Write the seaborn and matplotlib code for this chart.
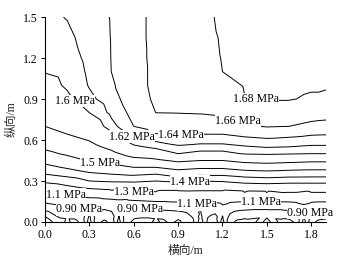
import numpy as np
import matplotlib
matplotlib.use("Agg")
import matplotlib.pyplot as plt
import matplotlib.tri as mtri
import seaborn as sns

# ---------------- data ----------------
# upper field: coarse columns
x_top = [0.0, 0.15, 0.3, 0.45, 0.6, 0.75, 0.9, 1.05, 1.2, 1.35, 1.5, 1.65, 1.8, 1.9]
y_top = [0.2, 0.25, 0.3, 0.35, 0.4, 0.45, 0.5, 0.55, 0.6, 0.65, 0.7, 0.8, 0.9, 1.0, 1.1, 1.2, 1.35, 1.5]
# stress (MPa), one list per x column, bottom -> top
col_000 = [1.07, 1.21, 1.33, 1.40, 1.436, 1.465, 1.49, 1.508, 1.522, 1.536, 1.55, 1.5635, 1.577, 1.591, 1.601, 1.605, 1.610, 1.615]
col_015 = [1.10, 1.267, 1.367, 1.421, 1.456, 1.483, 1.506, 1.522, 1.5375, 1.552, 1.560, 1.578, 1.595, 1.603, 1.606, 1.610, 1.615, 1.621]
col_030 = [1.167, 1.317, 1.40, 1.442, 1.475, 1.503, 1.52, 1.537, 1.552, 1.564, 1.576, 1.60, 1.615, 1.6215, 1.6236, 1.6257, 1.629, 1.632]
col_045 = [1.22, 1.343, 1.408, 1.45, 1.486, 1.515, 1.54, 1.561, 1.579, 1.596, 1.613, 1.625, 1.631, 1.637, 1.6402, 1.6405, 1.6407, 1.641]
col_060 = [1.26, 1.35, 1.41, 1.458, 1.50, 1.536, 1.567, 1.594, 1.616, 1.629, 1.64, 1.647, 1.654, 1.655, 1.655, 1.655, 1.655, 1.655]
col_075 = [1.267, 1.344, 1.40, 1.45, 1.50, 1.542, 1.579, 1.607, 1.624, 1.641, 1.648, 1.6601, 1.662, 1.663, 1.663, 1.6635, 1.664, 1.664]
col_090 = [1.243, 1.343, 1.4125, 1.47, 1.517, 1.558, 1.60, 1.617, 1.631, 1.643, 1.65, 1.6604, 1.6616, 1.663, 1.664, 1.665, 1.667, 1.669]
col_105 = [1.25, 1.3375, 1.40, 1.46, 1.508, 1.55, 1.592, 1.613, 1.629, 1.642, 1.65, 1.661, 1.663, 1.665, 1.667, 1.669, 1.672, 1.675]
col_120 = [1.25, 1.3375, 1.4056, 1.46, 1.508, 1.55, 1.592, 1.613, 1.629, 1.642, 1.651, 1.663, 1.669, 1.674, 1.68, 1.681, 1.682, 1.683]
col_135 = [1.271, 1.357, 1.42, 1.472, 1.521, 1.5625, 1.602, 1.618, 1.634, 1.647, 1.658, 1.668, 1.6795, 1.681, 1.683, 1.685, 1.687, 1.69]
col_150 = [1.271, 1.362, 1.425, 1.478, 1.525, 1.567, 1.604, 1.6215, 1.637, 1.65, 1.661, 1.671, 1.681, 1.683, 1.685, 1.688, 1.691, 1.695]
col_165 = [1.271, 1.357, 1.42, 1.472, 1.521, 1.5625, 1.602, 1.62, 1.634, 1.649, 1.66, 1.67, 1.681, 1.684, 1.687, 1.69, 1.695, 1.70]
col_180 = [1.271, 1.357, 1.42, 1.47, 1.517, 1.558, 1.60, 1.617, 1.631, 1.644, 1.6556, 1.668, 1.678, 1.682, 1.685, 1.688, 1.692, 1.696]
col_190 = [1.271, 1.357, 1.42, 1.47, 1.517, 1.558, 1.60, 1.617, 1.631, 1.643, 1.654, 1.667, 1.676, 1.682, 1.685, 1.688, 1.692, 1.696]
cols_top = [col_000, col_015, col_030, col_045, col_060, col_075, col_090,
            col_105, col_120, col_135, col_150, col_165, col_180, col_190]

# lower strip: fine columns (every 0.05 m)
x_bot = [round(0.05 * i, 2) for i in range(39)]
y_bot = [0.0, 0.03, 0.06, 0.1, 0.15]
row_000 = [0.3, 0.5, 0.62, 0.74, 0.64, 0.76, 1.2, 0.76, 0.66, 0.76, 1.18, 0.76, 0.66, 0.6, 0.66, 0.74, 0.66, 0.74, 0.66, 0.76,
           0.86, 1.2, 0.86, 0.76, 1.18, 0.76, 0.66, 0.6, 0.66, 0.74, 0.66, 0.74, 0.66, 0.6, 0.76, 1.18, 0.76, 0.66, 0.64]
row_003 = [0.45, 0.62, 0.7, 0.72, 0.72, 0.8, 1.15, 0.8, 0.74, 0.8, 1.12, 0.78, 0.72, 0.7, 0.7, 0.71, 0.72, 0.72, 0.73, 0.78,
           0.9, 1.15, 0.9, 0.82, 1.12, 0.82, 0.74, 0.72, 0.71, 0.7, 0.7, 0.71, 0.72, 0.74, 0.8, 1.12, 0.8, 0.74, 0.72]
row_006 = [0.6, 0.7, 0.76, 0.78, 0.8, 0.85, 1.1, 0.86, 0.82, 0.86, 1.08, 0.85, 0.82, 0.8, 0.8, 0.81, 0.82, 0.83, 0.84, 0.87,
           0.95, 1.12, 0.95, 0.9, 1.08, 0.9, 0.84, 0.82, 0.81, 0.8, 0.8, 0.81, 0.82, 0.84, 0.88, 1.08, 0.88, 0.83, 0.82]
row_010 = [0.78, 0.82, 0.86, 0.88, 0.9, 0.93, 1.02, 0.94, 0.92, 0.95, 1.02, 0.95, 0.93, 0.92, 0.92, 0.93, 0.94, 0.95, 0.96, 0.98,
           1.03, 1.1, 1.02, 0.98, 1.06, 0.98, 0.95, 0.94, 0.93, 0.93, 0.93, 0.93, 0.93, 0.94, 0.97, 1.05, 0.97, 0.93, 0.92]
row_015 = [0.93, 0.95, 0.97, 0.98, 0.99, 1.0, 1.02, 1.02, 1.03, 1.04, 1.06, 1.06, 1.07, 1.08, 1.09, 1.1, 1.1, 1.11, 1.11, 1.12,
           1.13, 1.15, 1.13, 1.12, 1.14, 1.12, 1.11, 1.11, 1.11, 1.11, 1.11, 1.11, 1.11, 1.11, 1.12, 1.14, 1.12, 1.11, 1.11]
rows_bot = [row_000, row_003, row_006, row_010, row_015]

levels = [0.5, 0.7, 0.9, 1.1, 1.3, 1.4, 1.45, 1.5, 1.55, 1.6, 1.62, 1.64, 1.66, 1.68]
label_text = {0.9: "0.90 MPa", 1.1: "1.1 MPa", 1.3: "1.3 MPa", 1.4: "1.4 MPa", 1.5: "1.5 MPa",
              1.6: "1.6 MPa", 1.62: "1.62 MPa", 1.64: "1.64 MPa", 1.66: "1.66 MPa", 1.68: "1.68 MPa"}
label_levels = [1.6, 1.62, 1.64, 1.66, 1.68, 1.5, 1.4, 1.3, 1.1, 1.1, 1.1, 0.9, 0.9, 0.9]
label_x = [0.2, 0.57, 0.92, 1.3, 1.43, 0.37, 0.98, 0.59, 0.14, 1.04, 1.46, 0.23, 0.64, 1.77]
label_y = [0.88, 0.6, 0.63, 0.73, 0.93, 0.43, 0.30, 0.21, 0.2, 0.14, 0.145, 0.095, 0.09, 0.095]

x_ticks = [0.0, 0.3, 0.6, 0.9, 1.2, 1.5, 1.8]
y_ticks = [0.0, 0.3, 0.6, 0.9, 1.2, 1.5]

# ---------------- assemble points ----------------
px, py, pz = [], [], []
for xi, col in zip(x_top, cols_top):
    for yi, zi in zip(y_top, col):
        px.append(xi); py.append(yi); pz.append(zi)
for yi, row in zip(y_bot, rows_bot):
    for xi, zi in zip(x_bot, row):
        px.append(xi); py.append(yi); pz.append(zi)
px, py, pz = np.array(px), np.array(py), np.array(pz)

# ---------------- plot ----------------
sns.set_theme(style="ticks")
plt.rcParams["font.family"] = ["Liberation Serif", "Noto Sans CJK SC", "DejaVu Sans"]
plt.rcParams["axes.unicode_minus"] = False

fig = plt.figure(figsize=(3.42, 2.64), dpi=100)
ax = fig.add_axes([45 / 342, 1 - 222 / 264, (326 - 45) / 342, (222 - 17) / 264])

tri = mtri.Triangulation(px, py)
lw = 0.7
unlabeled = [lv for lv in levels if lv not in label_text]
ax.tricontour(tri, pz, levels=unlabeled, colors="black", linewidths=lw)

for lev in sorted(set(label_levels)):
    cs = ax.tricontour(tri, pz, levels=[lev], colors="black", linewidths=lw)
    pos = [(lx, ly) for lv, lx, ly in zip(label_levels, label_x, label_y) if lv == lev]
    txts = cs.clabel(manual=pos, inline=False,
                     fmt={lev: label_text[lev]}, fontsize=8.5, colors="black")
    for t in txts:
        t.set_rotation(0)
        t.set_zorder(5)
        t.set_clip_on(False)
        t.set_bbox(dict(facecolor="white", edgecolor="none", pad=0.2))

ax.set_xlim(0, 1.9)
ax.set_ylim(0, 1.5)
ax.set_xticks(x_ticks)
ax.set_xticklabels([f"{v:.1f}" for v in x_ticks])
ax.set_yticks(y_ticks)
ax.set_yticklabels([f"{v:.1f}" for v in y_ticks])
ax.tick_params(axis="both", direction="out", length=3, width=0.7, labelsize=8.5, pad=2, colors="black")
for s in ["top", "right"]:
    ax.spines[s].set_visible(False)
for s in ["left", "bottom"]:
    ax.spines[s].set_linewidth(0.8)
    ax.spines[s].set_color("black")
    ax.spines[s].set_zorder(6)
ax.set_xlabel("横向/m", fontsize=8.5, labelpad=3)
ax.set_ylabel("纵向/m", fontsize=8.5, labelpad=4)

fig.savefig("out.png", dpi=100)
